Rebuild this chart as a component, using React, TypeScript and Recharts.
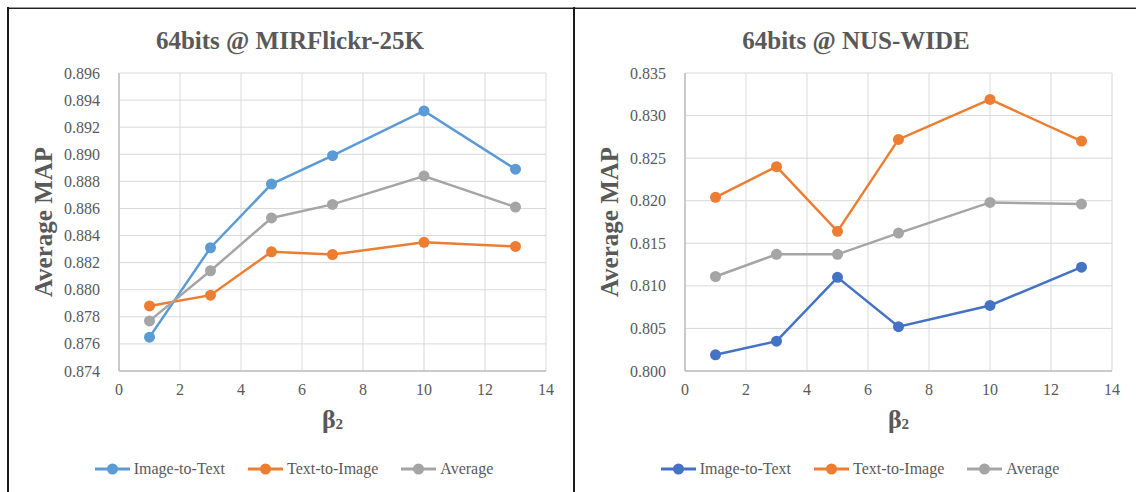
import React from "react";
import {
  LineChart,
  Line,
  XAxis,
  YAxis,
  CartesianGrid,
  Legend,
} from "recharts";

const betas = [1, 3, 5, 7, 10, 13];
const xTicks = [0, 2, 4, 6, 8, 10, 12, 14];

const mirI2T = [0.8765, 0.8831, 0.8878, 0.8899, 0.8932, 0.8889];
const mirT2I = [0.8788, 0.8796, 0.8828, 0.8826, 0.8835, 0.8832];
const mirAvg = [0.8777, 0.8814, 0.8853, 0.8863, 0.8884, 0.8861];
const mirTicks = [0.874, 0.876, 0.878, 0.88, 0.882, 0.884, 0.886, 0.888, 0.89, 0.892, 0.894, 0.896];

const nusI2T = [0.8019, 0.8035, 0.811, 0.8052, 0.8077, 0.8122];
const nusT2I = [0.8204, 0.824, 0.8164, 0.8272, 0.8319, 0.827];
const nusAvg = [0.8111, 0.8137, 0.8137, 0.8162, 0.8198, 0.8196];
const nusTicks = [0.8, 0.805, 0.81, 0.815, 0.82, 0.825, 0.83, 0.835];

const seriesNames = ["Image-to-Text", "Text-to-Image", "Average"];

const FONT = "'Liberation Serif', 'Times New Roman', serif";
const TEXT = "#595959";

interface PanelProps {
  title: string;
  left: number;
  i2t: number[];
  t2i: number[];
  avg: number[];
  ticks: number[];
  colors: string[];
}

// tick renderers: plain svg text so the serif font sticks
const XTick = (props: any) => {
  const { x, y, payload } = props;
  return (
    <text x={x} y={y + 24} textAnchor="middle" fill={TEXT} fontFamily={FONT} fontSize={16}>
      {payload.value}
    </text>
  );
};

const YTick = (props: any) => {
  const { x, y, payload } = props;
  return (
    <text x={x - 19} y={y + 5.5} textAnchor="end" fill={TEXT} fontFamily={FONT} fontSize={16}>
      {Number(payload.value).toFixed(3)}
    </text>
  );
};

function LegendRow({ colors }: { colors: string[] }) {
  return (
    <div
      style={{
        display: "flex",
        justifyContent: "center",
        paddingLeft: 18,
        fontFamily: FONT,
        fontSize: 16,
        color: TEXT,
      }}
    >
      {seriesNames.map((name, i) => (
        <div
          key={name}
          style={{ display: "flex", alignItems: "center", marginRight: i < 2 ? 23 : 0 }}
        >
          <svg width={35} height={14} style={{ marginRight: 4 }}>
            <line x1={0} y1={7} x2={35} y2={7} stroke={colors[i]} strokeWidth={3} />
            <circle cx={17.5} cy={7} r={5.5} fill={colors[i]} />
          </svg>
          <span>{name}</span>
        </div>
      ))}
    </div>
  );
}

function Panel({ title, left, i2t, t2i, avg, ticks, colors }: PanelProps) {
  const data = betas.map((b, i) => ({ beta: b, i2t: i2t[i], t2i: t2i[i], avg: avg[i] }));
  const keys = ["i2t", "t2i", "avg"];

  return (
    <div style={{ position: "absolute", left, top: 0, width: 570, height: 492, fontFamily: FONT }}>
      <div
        style={{
          position: "absolute",
          top: 28,
          left: 0,
          width: 580,
          textAlign: "center",
          fontWeight: "bold",
          fontSize: 25,
          lineHeight: "25px",
          color: TEXT,
        }}
      >
        {title}
      </div>
      <LineChart
        width={570}
        height={492}
        data={data}
        margin={{ top: 73, right: 24, bottom: 0, left: 39 }}
      >
        <CartesianGrid stroke="#d9d9d9" strokeWidth={1} />
        <XAxis
          dataKey="beta"
          type="number"
          domain={[0, 14]}
          ticks={xTicks}
          height={121}
          tickSize={0}
          tickMargin={0}
          stroke="#bfbfbf"
          strokeWidth={1.5}
          tick={XTick}
          label={{
            content: (props: any) => {
              const vb = props.viewBox;
              return (
                <text
                  x={vb.x + vb.width / 2}
                  y={vb.y + 57}
                  textAnchor="middle"
                  fill={TEXT}
                  fontFamily={FONT}
                  fontWeight="bold"
                >
                  <tspan fontSize={26}>β</tspan>
                  <tspan fontSize={15} dy={1}>2</tspan>
                </text>
              );
            },
          }}
        />
        <YAxis
          type="number"
          domain={[ticks[0], ticks[ticks.length - 1]]}
          ticks={ticks}
          width={80}
          tickSize={0}
          tickMargin={0}
          stroke="#bfbfbf"
          strokeWidth={1.5}
          tick={YTick}
          label={{
            content: (props: any) => {
              const vb = props.viewBox;
              const cx = vb.x + vb.width - 67;
              const cy = vb.y + vb.height / 2;
              return (
                <text
                  x={cx}
                  y={cy}
                  transform={`rotate(-90 ${cx} ${cy})`}
                  textAnchor="middle"
                  fill={TEXT}
                  fontFamily={FONT}
                  fontWeight="bold"
                  fontSize={25}
                >
                  Average MAP
                </text>
              );
            },
          }}
        />
        <Legend
          layout="horizontal"
          verticalAlign="middle"
          align="center"
          wrapperStyle={{ top: 460, left: 0, width: 570 }}
          content={() => <LegendRow colors={colors} />}
        />
        {keys.map((k, i) => (
          <Line
            key={k}
            type="linear"
            dataKey={k}
            name={seriesNames[i]}
            stroke={colors[i]}
            strokeWidth={2.5}
            dot={{ r: 5.5, fill: colors[i], stroke: colors[i], strokeWidth: 0 }}
            activeDot={false}
            isAnimationActive={false}
          />
        ))}
      </LineChart>
    </div>
  );
}

export default function App() {
  return (
    <div
      style={{
        position: "absolute",
        left: 0,
        top: 0,
        width: 1136,
        height: 492,
        background: "#fff",
        overflow: "hidden",
      }}
    >
      <Panel
        title="64bits @ MIRFlickr-25K"
        left={0}
        i2t={mirI2T}
        t2i={mirT2I}
        avg={mirAvg}
        ticks={mirTicks}
        colors={["#5b9bd5", "#ed7d31", "#a5a5a5"]}
      />
      <Panel
        title="64bits @ NUS-WIDE"
        left={566}
        i2t={nusI2T}
        t2i={nusT2I}
        avg={nusAvg}
        ticks={nusTicks}
        colors={["#4472c4", "#ed7d31", "#a5a5a5"]}
      />
      <div style={{ position: "absolute", left: 7, top: 7, width: 1129, height: 1, background: "#9a9a9a" }} />
      <div style={{ position: "absolute", left: 7, top: 8, width: 1129, height: 1, background: "#222" }} />
      <div style={{ position: "absolute", left: 7, top: 7, width: 2, height: 485, background: "#1a1a1a" }} />
      <div style={{ position: "absolute", left: 573, top: 7, width: 2, height: 485, background: "#1a1a1a" }} />
    </div>
  );
}
